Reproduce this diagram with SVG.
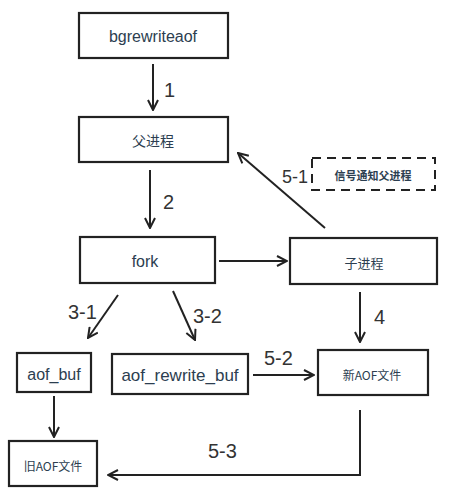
<svg xmlns="http://www.w3.org/2000/svg" width="449" height="497" viewBox="0 0 449 497">
<defs>
<marker id="ah" viewBox="0 0 12 12" refX="11" refY="6" markerWidth="12" markerHeight="12" markerUnits="userSpaceOnUse" orient="auto">
<path d="M1,1 L11,6 L1,11" fill="none" stroke="#222" stroke-width="2" stroke-linejoin="miter"/>
</marker>
<style>
.box{fill:#fff;stroke:#222;stroke-width:2.2}
.dash{fill:#fff;stroke:#222;stroke-width:2;stroke-dasharray:9 6}
.t{font-family:"Liberation Sans","Noto Sans CJK SC",sans-serif;fill:#2c3e50;text-anchor:middle;dominant-baseline:central}
.cn{font-family:"Noto Sans CJK SC",sans-serif;fill:#2c3e50;text-anchor:middle;dominant-baseline:central}
.lb{font-family:"Liberation Sans",sans-serif;font-size:20px;fill:#333}
.c{fill:none;stroke:#222;stroke-width:2;marker-end:url(#ah)}
</style>
</defs>
<rect width="449" height="497" fill="#fff"/>
<g id="n-bgrewriteaof"><rect class="box" x="79" y="13" width="149" height="45"/><text class="t" x="153" y="36" font-size="16">bgrewriteaof</text></g>
<g id="n-parent"><rect class="box" x="79" y="117" width="149" height="45"/><text class="cn" x="153" y="140" font-size="14">父进程</text></g>
<g id="n-signal"><rect class="dash" x="312" y="158" width="123" height="32"/><text class="cn" x="373" y="175" font-size="11" font-weight="bold">信号通知父进程</text></g>
<g id="n-fork"><rect class="box" x="80" y="237" width="135" height="46"/><text class="t" x="145" y="261" font-size="16">fork</text></g>
<g id="n-child"><rect class="box" x="290" y="238" width="147" height="46"/><text class="cn" x="364" y="262" font-size="13">子进程</text></g>
<g id="n-aofbuf"><rect class="box" x="17" y="353" width="74" height="39"/><text class="t" x="54" y="374" font-size="16">aof_buf</text></g>
<g id="n-rewritebuf"><rect class="box" x="112" y="354" width="136" height="40"/><text class="t" x="180" y="375" font-size="17">aof_rewrite_buf</text></g>
<g id="n-newaof"><rect class="box" x="318" y="350" width="110" height="45"/><text class="cn" x="372" y="374" font-size="12">新AOF文件</text></g>
<g id="n-oldaof"><rect class="box" x="9" y="441" width="88" height="45"/><text class="cn" x="53" y="465" font-size="12">旧AOF文件</text></g>
<g id="connectors">
<line class="c" x1="153" y1="64" x2="153" y2="110"/>
<line class="c" x1="150" y1="170" x2="150" y2="228"/>
<line class="c" x1="219" y1="261" x2="287" y2="261"/>
<line class="c" x1="325" y1="228" x2="238" y2="153"/>
<line class="c" x1="118" y1="295" x2="88" y2="338"/>
<line class="c" x1="173" y1="291" x2="195" y2="340"/>
<line class="c" x1="360" y1="292" x2="360" y2="342"/>
<line class="c" x1="253" y1="375" x2="314" y2="375"/>
<line class="c" x1="54" y1="396" x2="54" y2="437"/>
<polyline class="c" points="360,410 360,475 108,475"/>
</g>
<g id="labels">
<text class="lb" x="164" y="97">1</text>
<text class="lb" x="163" y="209">2</text>
<text class="lb" x="282" y="183" font-size="18" style="font-size:18px">5-1</text>
<text class="lb" x="68" y="319">3-1</text>
<text class="lb" x="193" y="323">3-2</text>
<text class="lb" x="374" y="324">4</text>
<text class="lb" x="264" y="365">5-2</text>
<text class="lb" x="208" y="458">5-3</text>
</g>
</svg>
